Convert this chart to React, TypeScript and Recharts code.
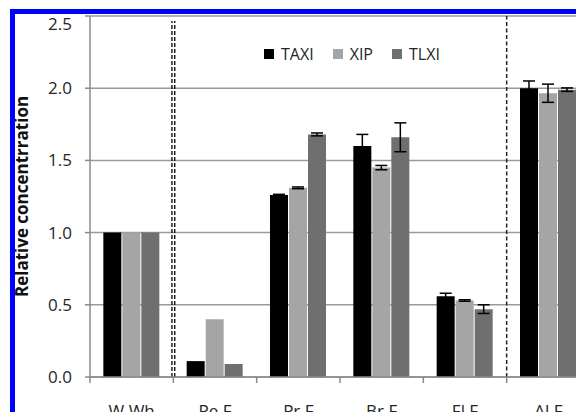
import { BarChart, Bar, XAxis, YAxis, CartesianGrid, Legend, ErrorBar, ReferenceLine } from "recharts";

const categories = ["W Wh", "Pe F", "Pr F", "Br F", "Fl F", "Al F"];
const seriesNames = ["TAXI", "XIP", "TLXI"];
const taxi = [1.0, 0.11, 1.26, 1.6, 0.56, 2.0];
const xip = [1.0, 0.4, 1.31, 1.45, 0.53, 1.965];
const tlxi = [1.0, 0.09, 1.68, 1.66, 0.47, 1.99];
const taxiErr = [null, null, 0.005, 0.08, 0.02, 0.05];
const xipErr = [null, null, 0.006, 0.015, 0.005, 0.063];
const tlxiErr = [null, null, 0.01, 0.1, 0.03, 0.012];
const yTicks = [0, 0.5, 1.0, 1.5, 2.0, 2.5];

const data = categories.map((name, i) => ({
  name,
  TAXI: taxi[i],
  XIP: xip[i],
  TLXI: tlxi[i],
  taxiErr: taxiErr[i],
  xipErr: xipErr[i],
  tlxiErr: tlxiErr[i],
}));

const FONT = "'Open Sans', sans-serif";
const TEXT = "#262626";
const AXIS = "#8a8a8a";
const LABEL_GAP = 28;

const CategoryTick = (props: any) => {
  const { x, y, payload } = props;
  const half = payload.offset ?? 41.7;
  const axisY = y - LABEL_GAP;
  return (
    <g>
      <line x1={x - half} x2={x - half} y1={axisY} y2={axisY + 6} stroke={AXIS} strokeWidth={1.5} />
      <text x={x} y={y} dy="0.71em" textAnchor="middle" fill={TEXT} fontSize={17} fontFamily={FONT}>
        {payload.value}
      </text>
    </g>
  );
};

const DoubleDash = (p: any) => (
  <g>
    <line x1={p.x1 - 1.4} x2={p.x2 - 1.4} y1={p.y1} y2={p.y2 + 5} stroke="#111" strokeWidth={1.4} strokeDasharray="4 2" />
    <line x1={p.x1 + 1.4} x2={p.x2 + 1.4} y1={p.y1} y2={p.y2 + 5} stroke="#111" strokeWidth={1.4} strokeDasharray="4 2" />
  </g>
);

const LegendBox = ({ payload }: any) => {
  const items = [...(payload || [])].sort(
    (a: any, b: any) => seriesNames.indexOf(a.value) - seriesNames.indexOf(b.value)
  );
  return (
    <div style={{ display: "flex", fontFamily: FONT, fontSize: 16, color: TEXT }}>
      {items.map((e: any) => (
        <div key={e.value} style={{ display: "flex", alignItems: "center", marginRight: 19 }}>
          <span style={{ width: 10, height: 10, background: e.color, marginRight: 7, display: "inline-block" }} />
          {e.value}
        </div>
      ))}
    </div>
  );
};

export default function App() {
  return (
    <div style={{ position: "fixed", left: 0, top: 0, width: 576, height: 412, overflow: "hidden", background: "#fff" }}>
      <div
        style={{
          position: "absolute",
          left: 10,
          top: 9,
          width: 640,
          height: 440,
          border: "5px solid #0000ff",
          overflow: "hidden",
          background: "#fff",
        }}
      >
        <BarChart
          width={620}
          height={430}
          data={data}
          margin={{ top: 2, right: 45, bottom: 27, left: 0 }}
          barCategoryGap="16%"
          barGap={1}
        >
          <CartesianGrid vertical={false} stroke="#9a9a9a" strokeWidth={1.5} />
          <XAxis
            dataKey="name"
            height={40}
            interval={0}
            axisLine={{ stroke: AXIS, strokeWidth: 1.5 }}
            tickLine={false}
            tickSize={0}
            tickMargin={LABEL_GAP}
            tick={<CategoryTick />}
          />
          <YAxis
            width={75}
            domain={[0, 2.5]}
            ticks={yTicks}
            tickFormatter={(v: number) => v.toFixed(1)}
            axisLine={{ stroke: AXIS, strokeWidth: 1.5 }}
            tickLine={{ stroke: AXIS, strokeWidth: 1.5 }}
            tickSize={5}
            tickMargin={13}
            tick={{ fill: TEXT, fontSize: 17, fontFamily: FONT }}
            label={{
              value: "Relative concentrration",
              angle: -90,
              position: "insideLeft",
              offset: 7,
              style: { textAnchor: "middle", fontWeight: "bold", fontSize: 17, fontFamily: FONT, fill: "#111" },
            }}
          />
          <Legend
            verticalAlign="middle"
            align="center"
            layout="horizontal"
            content={<LegendBox />}
            wrapperStyle={{ position: "absolute", top: 29, left: 249, width: "auto" }}
          />
          <ReferenceLine x="Pe F" position="start" stroke="#111" shape={<DoubleDash />} />
          <ReferenceLine x="Al F" position="start" stroke="#222" strokeWidth={1.5} strokeDasharray="4 2.5" />
          <Bar dataKey="TAXI" name="TAXI" fill="#000000" isAnimationActive={false}>
            <ErrorBar dataKey="taxiErr" width={6} stroke="#000" strokeWidth={1.5} isAnimationActive={false} />
          </Bar>
          <Bar dataKey="XIP" name="XIP" fill="#a5a5a5" isAnimationActive={false}>
            <ErrorBar dataKey="xipErr" width={6} stroke="#000" strokeWidth={1.5} isAnimationActive={false} />
          </Bar>
          <Bar dataKey="TLXI" name="TLXI" fill="#6f6f6f" isAnimationActive={false}>
            <ErrorBar dataKey="tlxiErr" width={6} stroke="#000" strokeWidth={1.5} isAnimationActive={false} />
          </Bar>
        </BarChart>
      </div>
    </div>
  );
}
